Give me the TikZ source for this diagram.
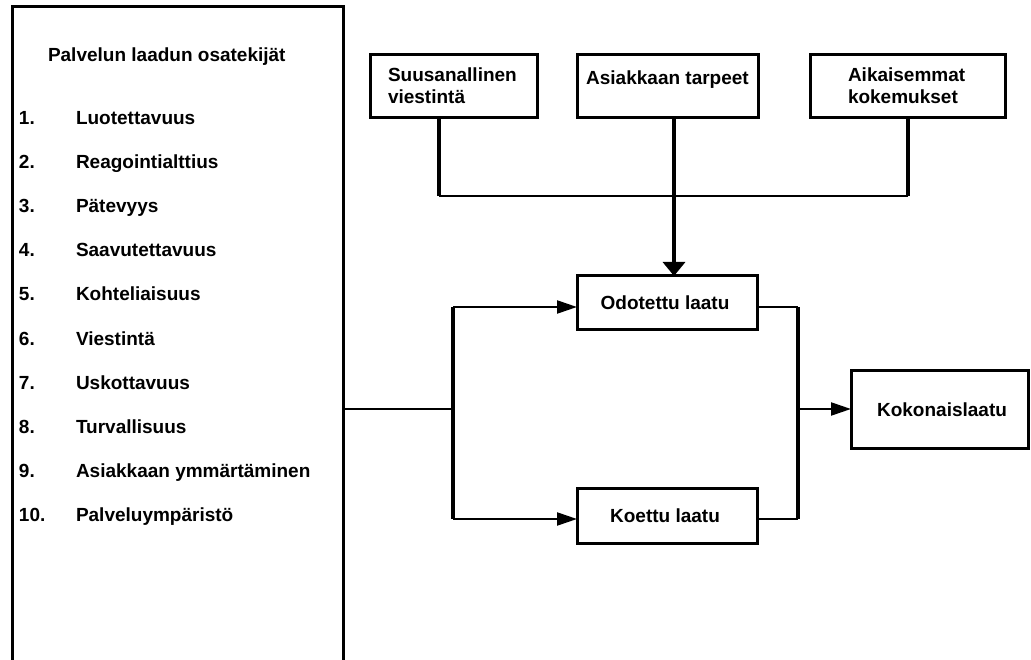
\documentclass[tikz,border=0pt]{standalone}
\usepackage{fontspec}
\setmainfont{Liberation Sans}
\usetikzlibrary{arrows.meta}
\begin{document}
\begin{tikzpicture}[x=1pt,y=-1pt,
  box/.style={draw=black,line width=3pt,fill=white,inner sep=0pt,outer sep=0pt},
  txt/.style={inner sep=0pt,outer sep=0pt,anchor=base west,font=\bfseries\fontsize{19}{22}\selectfont},
  ctxt/.style={inner sep=0pt,outer sep=0pt,anchor=base,font=\bfseries\fontsize{19}{22}\selectfont},
  thinline/.style={line width=2.2pt},
  thickline/.style={line width=3.3pt},
  sidearrow/.style={line width=2.2pt,-{Triangle[length=20pt,width=13pt]}},
  downarrow/.style={line width=3.3pt,-{Triangle[length=14pt,width=22pt]}}]
\useasboundingbox (0,0) rectangle (1031,660);
\clip (0,0) rectangle (1031,660);
\fill[white] (0,0) rectangle (1031,660);
% left box
\node[box,anchor=north west,minimum width=331pt,minimum height=804pt] (left) at (12,7) {};
\node[txt] (title) at (48,62) {Palvelun laadun osatekijät};
\foreach \i/\t in {1/Luotettavuus,2/Reagointialttius,3/Pätevyys,4/Saavutettavuus,5/Kohteliaisuus,6/Viestintä,7/Uskottavuus,8/Turvallisuus,9/Asiakkaan ymmärtäminen,10/Palveluympäristö}{
  \node[txt] (n\i) at (19,{125+44*(\i-1)}) {\i.};
  \node[txt] (t\i) at (76,{125+44*(\i-1)}) {\t};
}
% top boxes
\node[box,minimum width=167pt,minimum height=63pt] (suus) at (453.5,86.5) {};
\node[txt] (suust1) at (388,82) {Suusanallinen};
\node[txt] (suust2) at (388,103.5) {viestintä};
\node[box,minimum width=181pt,minimum height=63pt] (asi) at (667.5,86.5) {};
\node[ctxt] (asit) at (667.5,85) {Asiakkaan tarpeet};
\node[box,minimum width=195pt,minimum height=63pt] (aika) at (907.5,86.5) {};
\node[txt] (aikat1) at (848,82) {Aikaisemmat};
\node[txt] (aikat2) at (848,103.5) {kokemukset};
% middle boxes
\node[box,minimum width=180pt,minimum height=54pt] (odo) at (667,303) {};
\node[ctxt] (odot) at (665,310) {Odotettu laatu};
\node[box,minimum width=180pt,minimum height=55pt] (koe) at (667,515.5) {};
\node[ctxt] (koet) at (665,522) {Koettu laatu};
\node[box,minimum width=177pt,minimum height=78pt] (koko) at (939.5,409) {};
\node[ctxt] (kokot) at (942,416) {Kokonaislaatu};
% junctions
\coordinate (jS) at (439,196);
\coordinate (jA) at (674,196);
\coordinate (jK) at (908,196);
\coordinate (jL) at (453,409);
\coordinate (jLt) at (453,307);
\coordinate (jLb) at (453,519);
\coordinate (jR) at (798,409);
\coordinate (jRt) at (798,307);
\coordinate (jRb) at (798,519);
% top connectors
\draw[thickline] (jS |- suus.south) -- (jS);
\draw[thickline] (jK |- aika.south) -- (jK);
\draw[thinline] (jS) -- (jK);
\draw[downarrow] (jA |- asi.south) -- (jA |- odo.north);
% left connectors
\draw[thinline] (left.east |- jL) -- (jL);
\draw[thickline] (jLt) -- (jLb);
\draw[sidearrow] (jLt) -- (jLt -| odo.west);
\draw[sidearrow] (jLb) -- (jLb -| koe.west);
% right connectors
\draw[thinline] (jRt -| odo.east) -- (jRt);
\draw[thinline] (jRb -| koe.east) -- (jRb);
\draw[thickline] (jRt) -- (jRb);
\draw[sidearrow] (jR) -- (jR -| koko.west);
\end{tikzpicture}
\end{document}
